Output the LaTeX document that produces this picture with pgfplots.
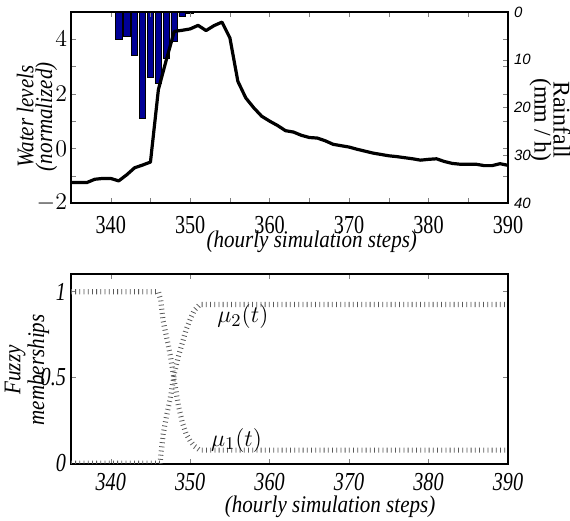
\documentclass[border=0pt]{standalone}
\usepackage{fontspec}
\setmainfont{Liberation Serif}
\newfontfamily\condfont{Liberation Serif}[FakeStretch=0.78]
\newfontfamily\labfont{Liberation Serif}[FakeStretch=0.88]
\newfontfamily\rsans{Liberation Sans}
\usepackage{pgfplots}
\usepackage{pgfplotstable}
\pgfplotsset{compat=1.18}
\definecolor{rainblue}{RGB}{0,0,150}

% water level (normalized)
\pgfplotstableread{
x w
335 -1.25
336 -1.25
337 -1.25
338 -1.13
339 -1.10
340 -1.10
341 -1.19
342 -0.97
343 -0.71
344 -0.61
345 -0.50
346 2.16
347 3.25
348 4.29
349 4.33
350 4.38
351 4.51
352 4.32
353 4.50
354 4.63
355 4.05
356 2.46
357 1.85
358 1.49
359 1.18
360 1.00
361 0.84
362 0.65
363 0.60
364 0.48
365 0.40
366 0.38
367 0.28
368 0.15
369 0.10
370 0.05
371 -0.03
372 -0.10
373 -0.17
374 -0.22
375 -0.27
376 -0.30
377 -0.34
378 -0.38
379 -0.43
380 -0.40
381 -0.38
382 -0.48
383 -0.55
384 -0.58
385 -0.58
386 -0.58
387 -0.63
388 -0.63
389 -0.56
390 -0.62
}\water

% rainfall (mm/h)
\pgfplotstableread{
x r
336 0.15
337 0.15
338 0.15
339 0.15
340 0.15
341 5.7
342 5.2
343 9.0
344 22.3
345 13.6
346 15.0
347 9.8
348 6.2
349 0.9
350 0.35
}\rain

% fuzzy memberships
\pgfplotstableread{
x m
335 1
346 1
346.3 0.95
346.6 0.83
347 0.74
347.5 0.63
348 0.48
348.5 0.34
349 0.24
349.5 0.17
350 0.13
350.5 0.10
351.2 0.076
390 0.076
}\muone
\pgfplotstableread{
x m
335 0
346.2 0
346.6 0.17
347 0.27
347.5 0.38
348 0.52
348.5 0.62
349 0.70
349.5 0.78
350 0.84
350.5 0.89
351.2 0.925
390 0.925
}\mutwo

\pgfplotsset{
  every axis/.append style={
    scale only axis, width=218.5bp, anchor=south west,
    line width=1bp, tick align=inside,
    major tick length=2.5bp, minor tick length=2.5bp,
    xmin=335, xmax=390,
  },
}

\begin{document}
\begin{tikzpicture}
\useasboundingbox (0,0) rectangle (285bp,260.5bp);

% rainfall bars, hanging from the top
\begin{axis}[
  at={(35.5bp,159bp)}, height=95.5bp,
  ymin=0, ymax=40, y dir=reverse,
  axis x line=none, axis y line*=right,
  ytick={0,10,...,40}, yticklabels={0,10,20,30,40},
  yticklabel style={font=\fontsize{7.5}{8}\rsans\itshape, inner sep=0pt, xshift=2.5bp},
  ylabel={Rainfall\\(mm / h)},
  ylabel style={at={([xshift=21bp]rel axis cs:1,0.435)}, anchor=center, rotate=180,
    align=center, font=\fontsize{12}{7.5}\selectfont},
  ybar, bar width=3.3bp,
]
  \addplot[fill=rainblue, draw=black, line width=0.4bp] table {\rain};
\end{axis}

% water levels
\begin{axis}[
  at={(35.5bp,159bp)}, height=95.5bp,
  ymin=-2, ymax=5,
  xtick={340,350,...,390}, xticklabels={340,350,360,370,380,390},
  minor xtick={335,345,...,385},
  ytick={-2,0,2,4}, minor ytick={-1,1,3,5},
  xticklabel style={font=\fontsize{13}{13}\condfont, inner sep=0pt, yshift=-6bp},
  yticklabel style={font=\fontsize{11.5}{12}\selectfont, inner sep=0pt, xshift=-1.5bp},
  xlabel={(hourly simulation steps)},
  xlabel style={at={([yshift=-19.5bp]rel axis cs:0.551,0)}, anchor=center,
    font=\fontsize{12}{12}\labfont\itshape},
  ylabel={Water levels\\(normalized)},
  ylabel style={at={([xshift=-17bp]rel axis cs:0,0.452)}, anchor=center,
    align=center, font=\fontsize{12}{7.5}\labfont\itshape},
]
  \addplot[black, line width=1.6bp, line join=round] table {\water};
\end{axis}

% fuzzy memberships
\begin{axis}[
  at={(35.5bp,28.5bp)}, height=95bp,
  ymin=-0.005, ymax=1.103,
  xtick={340,350,...,390}, xticklabels={340,350,360,370,380,390},
  ytick={0,0.5,1}, yticklabels={0,0.5,1},
  xticklabel style={font=\fontsize{13}{13}\condfont\itshape, inner sep=0pt, yshift=-4bp},
  yticklabel style={font=\fontsize{13}{13}\condfont\itshape, inner sep=0pt, xshift=-2bp},
  xlabel={(hourly simulation steps)},
  xlabel style={at={([yshift=-21.5bp]rel axis cs:0.593,0)}, anchor=center,
    font=\fontsize{12}{12}\labfont\itshape},
  ylabel={Fuzzy\\memberships},
  ylabel style={at={([xshift=-22bp]rel axis cs:0,0.495)}, anchor=center,
    align=center, font=\fontsize{12}{10}\labfont\itshape},
]
  \addplot[black!65, line width=2.6bp, dash pattern=on 0.4bp off 1.7bp] table {\muone};
  \addplot[black!65, line width=2.6bp, dash pattern=on 0.4bp off 1.7bp] table {\mutwo};
  \node[anchor=west, inner sep=0pt, font=\fontsize{13}{13}\selectfont] at (axis cs:353.3,0.853) {$\mu_2(t)$};
  \node[anchor=west, inner sep=0pt, font=\fontsize{13}{13}\selectfont] at (axis cs:352.5,0.134) {$\mu_1(t)$};
\end{axis}
\end{tikzpicture}
\end{document}
